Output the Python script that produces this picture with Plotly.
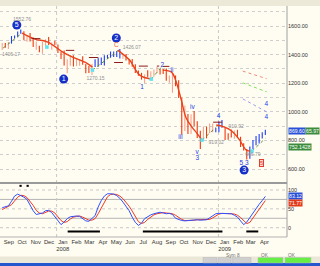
import plotly.graph_objects as go
import pandas as pd

# ---------------- data ----------------
weeks = pd.date_range("2007-08-31", "2009-04-17", freq="W-FRI")

high = [1481, 1481, 1489, 1530, 1533, 1561, 1576, 1564, 1535, 1552, 1520, 1492, 1462, 1488, 1508, 1524, 1485, 1498,
        1471, 1420, 1429, 1368, 1396, 1396, 1368, 1367, 1388, 1335, 1321, 1334, 1368, 1380, 1380, 1395, 1399, 1422,
        1422, 1426, 1440, 1406, 1404, 1370, 1370, 1333, 1290, 1273, 1262, 1291, 1284, 1297, 1313, 1300, 1300, 1304,
        1255, 1265, 1255, 1221, 1098, 1044, 985, 984, 1007, 934, 869, 897, 897, 918, 918, 888,
        932, 943, 890, 851, 877, 870, 875, 826, 780, 740, 758, 803, 832, 845, 857, 875]
low = [1432, 1449, 1439, 1477, 1513, 1521, 1546, 1500, 1491, 1492, 1453, 1434, 1417, 1406, 1460, 1467, 1435, 1468,
       1411, 1370, 1324, 1270, 1322, 1317, 1320, 1322, 1330, 1270, 1272, 1257, 1313, 1315, 1328, 1324, 1371, 1379,
       1384, 1384, 1373, 1371, 1359, 1331, 1315, 1272, 1252, 1225, 1200, 1242, 1234, 1247, 1274, 1261, 1264, 1217,
       1204, 1133, 1179, 1097, 840, 866, 845, 845, 899, 818, 741, 800, 815, 851, 857, 857,
       857, 889, 804, 805, 821, 812, 818, 754, 731, 667, 672, 741, 766, 779, 814, 839]
close = [1474, 1454, 1484, 1525, 1527, 1557, 1561, 1501, 1535, 1509, 1453, 1458, 1440, 1481, 1504, 1468, 1484, 1478,
         1411, 1401, 1325, 1331, 1396, 1331, 1349, 1353, 1331, 1294, 1288, 1330, 1316, 1370, 1333, 1390, 1398, 1414,
         1389, 1426, 1375, 1400, 1361, 1360, 1318, 1278, 1262, 1239, 1261, 1257, 1260, 1297, 1298, 1292, 1283, 1242,
         1252, 1255, 1213, 1100, 899, 940, 877, 968, 931, 873, 800, 896, 876, 879, 887, 873,
         932, 890, 850, 832, 826, 869, 827, 770, 735, 683, 757, 769, 816, 843, 857, 870]

# oscillator (%K blue, %D red)
osc_k = [53, 55, 58, 70, 84, 89, 86, 81, 75, 58, 45, 35, 36, 39, 45, 46, 40, 30,
         18, 8, 15, 24, 29, 31, 31, 30, 24, 18, 17, 24, 32, 55, 72, 84, 90, 90,
         89, 85, 78, 68, 58, 45, 28, 14, 6, 12, 24, 30, 34, 37, 40, 41, 39, 37,
         38, 35, 25, 21, 19, 18, 19, 20, 21, 21, 20, 20, 21, 26, 32, 37,
         38, 38, 38, 37, 37, 33, 28, 18, 8, 15, 27, 38, 52, 62, 72, 83]
osc_d = [48, 52, 55, 61, 71, 81, 86, 85, 80, 71, 59, 46, 39, 37, 40, 44, 44, 39,
         29, 19, 14, 16, 23, 28, 30, 31, 28, 24, 20, 20, 24, 37, 53, 70, 82, 88,
         89, 88, 84, 77, 68, 57, 44, 29, 16, 11, 14, 22, 29, 34, 37, 39, 40, 39,
         38, 37, 33, 27, 22, 19, 19, 19, 20, 21, 21, 20, 20, 22, 26, 32,
         36, 38, 38, 38, 37, 36, 33, 27, 18, 11, 14, 25, 38, 50, 61, 72]

up_phases = [("2007-09-20", "2007-10-12"), ("2008-03-27", "2008-05-23"),
             ("2008-12-24", "2009-01-09"), ("2009-03-12", "2009-04-20")]

# trend line (red) and uptrend lines (green)
red_x = [["2007-10-15", "2007-11-13", "2007-12-12", "2008-01-15", "2008-02-06", "2008-03-09", "2008-03-22"],
         ["2008-05-18", "2008-06-14", "2008-07-07", "2008-08-02"],
         ["2008-08-28", "2008-09-17", "2008-09-26", "2008-10-09", "2008-10-20", "2008-11-02", "2008-11-13", "2008-11-25"],
         ["2008-12-27", "2009-01-15", "2009-01-31", "2009-02-18", "2009-03-05", "2009-03-18"]]
red_y = [[1551, 1509, 1488, 1418, 1383, 1341, 1313],
         [1432, 1362, 1257, 1229],
         [1292, 1278, 1222, 1083, 957, 894, 852, 803],
         [908, 894, 866, 803, 733, 726]]
green_x = [["2007-09-02", "2007-10-15"], ["2008-03-22", "2008-05-18"], ["2008-08-02", "2008-08-25"],
           ["2008-11-25", "2008-12-27"], ["2009-03-18", "2009-04-17"]]
green_y = [[1446, 1551], [1292, 1425], [1229, 1313], [803, 894], [726, 815]]
cyan_x = ["2007-12-10", "2008-03-22", "2008-08-02", "2008-11-25", "2009-03-18"]
cyan_y = [1453, 1292, 1229, 803, 726]
stop_x = [["2007-11-05", "2007-11-28"], ["2008-01-22", "2008-02-10"], ["2008-03-14", "2008-04-06"],
          ["2008-05-10", "2008-05-30"], ["2008-07-05", "2008-08-20"], ["2008-08-28", "2008-09-12"],
          ["2008-12-20", "2009-01-25"]]
stop_y = [1512, 1430, 1380, 1345, 1320, 1318, 928]

# projections
proj_x = ["2009-02-25", "2009-04-20"]
proj_red = [1285, 1232]
proj_green = [1203, 1140]
proj_blue = [1091, 1000]

circled = [("2007-10-03", 1607, "5"), ("2008-01-17", 1229, "1"), ("2008-05-15", 1516, "2"), ("2009-02-28", 593, "3")]
wave_txt = [("2008-07-12", 1173, "1"), ("2008-08-27", 1327, "2"), ("2008-09-18", 1288, "ii"),
            ("2008-10-07", 824, "iii"), ("2008-11-03", 1033, "iv"), ("2008-11-14", 719, "v"),
            ("2008-11-14", 677, "3"), ("2009-01-01", 971, "4"), ("2009-02-28", 642, "5 3"),
            ("2009-04-19", 1055, "4"), ("2009-04-19", 964, "4")]
price_txt = [("2007-10-15", 1642, "1552.76"), ("2007-09-20", 1397, "1406.17"), ("2008-03-29", 1229, "1270.15"),
             ("2008-06-19", 1446, "1426.07"), ("2009-02-10", 894, "910.92"), ("2008-12-27", 782, "919.02"),
             ("2009-03-20", 698, "666.79")]

osc_bars = [("2008-01-26", "2008-04-08"), ("2008-07-14", "2009-01-10"), ("2009-03-05", "2009-04-01")]
osc_marks = [("2007-10-09", "2007-10-14"), ("2007-10-25", "2007-10-30")]

months = pd.date_range("2007-08-01", "2009-04-01", freq="MS")
ytick_vals = list(range(600, 1800, 100))

# ---------------- figure ----------------
W, H = 320, 266
px = lambda v: v / W
py = lambda v: (H - v) / H
FONT = "Liberation Sans"
BLUE = "#1f3cf5"
DRED = "#f0380e"
LRED = "#f6a28c"

def in_up(d):
    for a, b in up_phases:
        if pd.Timestamp(a) <= d <= pd.Timestamp(b):
            return True
    return False

groups = {BLUE: ([], []), DRED: ([], []), LRED: ([], [])}
for i, d in enumerate(weeks):
    if in_up(d):
        c = BLUE
    elif i > 0 and close[i] < close[i - 1]:
        c = DRED
    else:
        c = LRED
    groups[c][0].extend([d, d, None])
    groups[c][1].extend([low[i], high[i], None])

fig = go.Figure()
for c in [LRED, DRED, BLUE]:
    fig.add_trace(go.Scatter(x=groups[c][0], y=groups[c][1], mode="lines",
                             line=dict(color=c, width=1.1), hoverinfo="skip", showlegend=False))

for xs, ys in zip(green_x, green_y):
    fig.add_trace(go.Scatter(x=xs, y=ys, mode="lines", line=dict(color="#5d8f2e", width=1, dash="dot"),
                             showlegend=False))
for xs, ys in zip(red_x, red_y):
    fig.add_trace(go.Scatter(x=xs, y=ys, mode="lines", line=dict(color="#e8431c", width=1.4, shape="spline"),
                             showlegend=False))
for xs, yv in zip(stop_x, stop_y):
    fig.add_trace(go.Scatter(x=xs, y=[yv, yv], mode="lines", line=dict(color="#8b1a1a", width=1, dash="dash"),
                             showlegend=False))
fig.add_trace(go.Scatter(x=cyan_x, y=cyan_y, mode="markers",
                         marker=dict(color="#5fe3f0", size=3.5, symbol="square"), showlegend=False))

for ys, col in [(proj_red, "#f08a7a"), (proj_green, "#7ee05a"), (proj_blue, "#9a9af0")]:
    fig.add_trace(go.Scatter(x=proj_x, y=ys, mode="lines", line=dict(color=col, width=1, dash="dot"),
                             showlegend=False))

fig.add_trace(go.Scatter(x=[c[0] for c in circled], y=[c[1] for c in circled], mode="markers+text",
                         marker=dict(color="#1530c8", size=9), text=[c[2] for c in circled],
                         textposition="middle center",
                         textfont=dict(color="white", size=7, family=FONT), showlegend=False))
fig.add_trace(go.Scatter(x=[w[0] for w in wave_txt], y=[w[1] for w in wave_txt], mode="text",
                         text=[w[2] for w in wave_txt], textfont=dict(color="#2040e0", size=6.5, family=FONT),
                         showlegend=False))
fig.add_trace(go.Scatter(x=["2008-05-15"], y=[1467], mode="text", text=["C"],
                         textfont=dict(color="#f06040", size=6.5, family=FONT), showlegend=False))
fig.add_trace(go.Scatter(x=[p[0] for p in price_txt], y=[p[1] for p in price_txt], mode="text",
                         text=[p[2] for p in price_txt], textfont=dict(color="#909090", size=5, family=FONT),
                         showlegend=False))

# oscillator
fig.add_trace(go.Scatter(x=weeks, y=osc_d, mode="lines", line=dict(color="#ee3a22", width=1),
                         xaxis="x2", yaxis="y2", showlegend=False))
fig.add_trace(go.Scatter(x=weeks, y=osc_k, mode="lines", line=dict(color="#3050ff", width=1),
                         xaxis="x2", yaxis="y2", showlegend=False))

shapes = []
for a, b in osc_bars:
    shapes.append(dict(type="line", xref="x2", yref="y2", x0=a, x1=b, y0=-10, y1=-10,
                       line=dict(color="black", width=2)))
for a, b in osc_marks:
    shapes.append(dict(type="line", xref="x2", yref="y2", x0=a, x1=b, y0=111, y1=111,
                       line=dict(color="black", width=2)))
for lv in [25, 75]:
    shapes.append(dict(type="line", xref="paper", yref="y2", x0=0, x1=px(287), y0=lv, y1=lv,
                       line=dict(color="#b4b4b4", width=1), layer="below"))
for lv in [0, 50, 100]:
    shapes.append(dict(type="line", xref="paper", yref="y2", x0=0, x1=px(287), y0=lv, y1=lv,
                       line=dict(color="#c8c8c8", width=1, dash="dot"), layer="below"))
for d in ["2008-01-01", "2009-01-01"]:
    shapes.append(dict(type="line", xref="x", yref="paper", x0=d, x1=d, y0=py(237), y1=py(6),
                       line=dict(color="#c8c8c8", width=1, dash="dot"), layer="below"))
# frame
shapes += [
    dict(type="rect", xref="paper", yref="paper", x0=0, x1=1, y0=py(6), y1=1,
         fillcolor="#ece9d8", line=dict(width=0), layer="above"),
    dict(type="line", xref="paper", yref="paper", x0=px(287), x1=px(287), y0=py(237), y1=py(6),
         line=dict(color="#a0a0a0", width=1)),
    dict(type="line", xref="paper", yref="paper", x0=0, x1=px(287), y0=py(183), y1=py(183),
         line=dict(color="#9a9a9a", width=2)),
    dict(type="line", xref="paper", yref="paper", x0=0, x1=px(287), y0=py(237), y1=py(237),
         line=dict(color="#b0b0b0", width=1)),
    dict(type="rect", xref="paper", yref="paper", x0=0, x1=1, y0=py(263), y1=py(256.5),
         fillcolor="#ebe8d8", line=dict(width=0)),
    dict(type="rect", xref="paper", yref="paper", x0=0, x1=1, y0=0, y1=py(263),
         fillcolor="#2456d0", line=dict(width=0)),
]
for x0, x1, col in [(203, 217, "#cfcfcf"), (218, 231, "#cfcfcf"), (232, 251, "#cfcfcf"),
                    (258, 283, "#66ee44"), (285, 311, "#66ee44")]:
    shapes.append(dict(type="rect", xref="paper", yref="paper", x0=px(x0), x1=px(x1), y0=py(263), y1=py(257.5),
                       fillcolor=col, line=dict(color="#b8b8b8", width=0.5)))

annotations = []
for xc, txt in [(241.5, "Sym 8"), (270.5, "OK"), (298, "OK")]:
    annotations.append(dict(xref="paper", yref="paper", x=px(xc), y=py(260.3), text=txt, showarrow=False,
                            font=dict(size=4.8, color="#707070", family=FONT)))
tags = [("y", 869.6, 288, "869.60", "#2a50d8", 0), ("y", 869.6, 305, "65.97", "#3c8c3c", 0),
        ("y", 752.14, 288, "752.1428", "#3c8c3c", 0),
        ("y2", 83.12, 288, "83.12", "#2a50d8", 0), ("y2", 71.77, 288, "71.77", "#e03a1a", -2)]
for yr, yv, x0, txt, col, ys in tags:
    annotations.append(dict(xref="paper", yref=yr, x=px(x0), y=yv, xanchor="left", text=txt, showarrow=False,
                            bgcolor=col, font=dict(size=5.2, color="white", family=FONT), borderpad=0,
                            yshift=ys))
annotations.append(dict(xref="x", yref="y", x="2009-04-08", y=640, text="5", showarrow=False,
                        bgcolor="#fcd8cc", bordercolor="#e04030", borderwidth=1, borderpad=0,
                        font=dict(size=5.5, color="#e04030", family=FONT)))

tickvals = [m + pd.Timedelta(days=14) for m in months]
ticktext = [m.strftime("%b") + (("<br>" + m.strftime("%Y")) if m.month == 1 else "") for m in months]

fig.update_layout(
    width=W, height=H, margin=dict(l=0, r=0, t=0, b=0), autosize=False,
    paper_bgcolor="#fffdf2", plot_bgcolor="#fffdf2", showlegend=False,
    shapes=shapes, annotations=annotations,
    xaxis=dict(domain=[0, px(287)], anchor="y", range=["2007-08-26", "2009-06-05"], showticklabels=False,
               showgrid=False, zeroline=False, type="date"),
    xaxis2=dict(domain=[0, px(287)], anchor="y2", matches="x", showgrid=False, zeroline=False,
                tickvals=tickvals, ticktext=ticktext, ticks="", tickangle=0, ticklabelstandoff=0,
                tickfont=dict(size=5.8, color="#333333", family=FONT)),
    yaxis=dict(domain=[py(183), py(6)], range=[503, 1740], side="right", anchor="x",
               tickvals=ytick_vals, ticktext=[f"{v:.2f}" if v % 200 == 0 else "" for v in ytick_vals],
               showgrid=True, gridcolor="#cfcfcf", griddash="dot", zeroline=False, ticks="",
               tickfont=dict(size=5.5, color="#333333", family=FONT)),
    yaxis2=dict(domain=[py(237), py(184)], range=[-24.7, 115.9], side="right", anchor="x2",
                tickvals=[0, 50, 100], showgrid=False, zeroline=False, ticks="",
                tickfont=dict(size=5.5, color="#333333", family=FONT)),
)

fig.write_html("out.html")
